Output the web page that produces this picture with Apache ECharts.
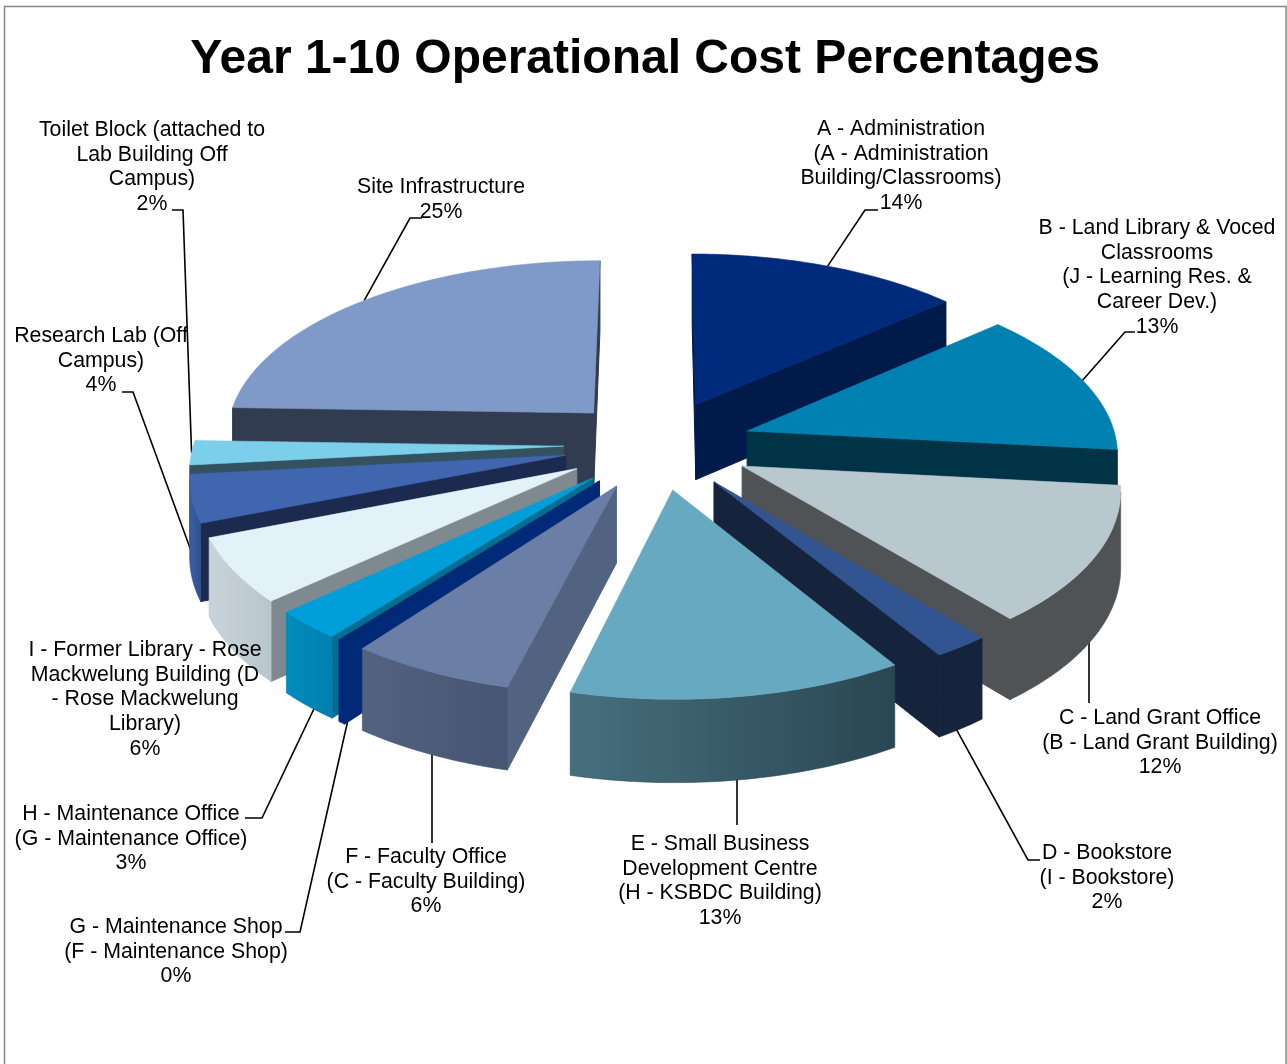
<!DOCTYPE html>
<html><head><meta charset="utf-8">
<style>html,body{margin:0;padding:0;background:#fff}#c{width:1287px;height:1064px}</style>
<script src="https://cdn.jsdelivr.net/npm/echarts@6/dist/echarts.min.js"></script>
</head><body><div id="c"></div>
<script>
const titleText = 'Year 1-10 Operational Cost Percentages';
const sliceNames = [
 'A - Administration\n(A - Administration\nBuilding/Classrooms)',
 'B - Land Library & Voced\nClassrooms\n(J - Learning Res. &\nCareer Dev.)',
 'C - Land Grant Office\n(B - Land Grant Building)',
 'D - Bookstore\n(I - Bookstore)',
 'E - Small Business\nDevelopment Centre\n(H - KSBDC Building)',
 'F - Faculty Office\n(C - Faculty Building)',
 'G - Maintenance Shop\n(F - Maintenance Shop)',
 'H - Maintenance Office\n(G - Maintenance Office)',
 'I - Former Library - Rose\nMackwelung Building (D\n- Rose Mackwelung\nLibrary)',
 'Research Lab (Off\nCampus)',
 'Toilet Block (attached to\nLab Building Off\nCampus)',
 'Site Infrastructure'
];
const sliceValues = [13.5, 13.2, 12.4, 2.15, 12.7, 6.3, 0.3, 2.65, 5.85, 4.3, 2.2, 24.5];

// --- styling and layout, separate from the data ---
const topColors = ['#002a7b','#0181b2','#b9c7ce','#325490','#68a9c2','#6a7ea6','#00286f','#009fd9','#e3f2f9','#3f66ae','#7bcfea','#7f99c9'];
const cutColors = ['#001b4a','#003345','#4f5355','#15233c','#2a4652','#526382','#002a78','#006d92','#7f8a90','#1b2a4e','#33515e','#323c50'];
const rimColors = [['#001b4a','#001b4a'],['#003345','#003345'],['#4f5355','#4f5355'],['#15233c','#15233c'],['#466f7e','#2a4652'],['#52627f','#465572'],['#002a78','#002a78'],['#008dbd','#007fae'],['#c8d4da','#b9c6cc'],['#3a5fa3','#2f5090'],['#33515e','#33515e'],['#323c50','#323c50']];
const explode = [0.255,0.255,0.255,0.255,0.255,0.255,0.255,0.255,0.255,0.255,0.255,0.255];
const labelCenterX = [901,1157,1160,1107,720,426,176,131,145,101,152,441];
const labelTopY = [117,216,706,841,832,845,915,802,638,324,118,175];
const leaderBends = [[[865,210],[878,210]],[[1125,332],[1135,332]],[[1089,703]],[[1028,860],[1040,860]],[[737,825]],[[432,843]],[[300,932],[285,932]],[[262,818],[245,818]],[],[[205,589],[133,392],[122,392]],[[183,210],[172,210]],[[410,218],[422,218]]];
const leaderRadius = [1,1,1,0.7,1,1,0.9,0.8,1,null,1,1];
const view = {cx:658, cy:444.5, R:370, Ry:175.5, persp:0.11, depth:76, depthPersp:0.6};

const total = sliceValues.reduce((a,b)=>a+b,0);
let acc = 0;
const slices = sliceValues.map((v,i)=>{
  const a = acc/total*2*Math.PI; acc += v;
  const b = acc/total*2*Math.PI;
  return {i, a, b, m:(a+b)/2};
});
function project(u,v,z){
  const s = 1/(1-view.persp*v);
  return [view.cx+view.R*u*s, view.cy+view.Ry*v*s+view.depth*(1+(s-1)*view.depthPersp)*(z||0)];
}
function ground(sl,th,r){
  const e = explode[sl.i];
  const k = th===null?0:(r===undefined?1:r);
  return [e*Math.sin(sl.m)+(th===null?0:k*Math.sin(th)), -e*Math.cos(sl.m)+(th===null?0:-k*Math.cos(th))];
}
function wall(a){ // a: ground point list along the top edge
  const top = a.map(g=>project(g[0],g[1],0));
  const bot = a.map(g=>project(g[0],g[1],1)).reverse();
  return top.concat(bot);
}
function poly(points,fill,stroke,lw){
  return {type:'polygon',silent:true,shape:{points},style:{fill,stroke:stroke||fill,lineWidth:lw||0.6}};
}
function grad(c){return {type:'linear',x:0,y:0,x2:1,y2:0,colorStops:[{offset:0,color:c[0]},{offset:1,color:c[1]}]};}
function sliceGroup(sl){
  const n = Math.max(2,Math.ceil((sl.b-sl.a)/(Math.PI/180)));
  const rim = [];
  for(let k=0;k<=n;k++) rim.push(ground(sl,sl.a+(sl.b-sl.a)*k/n));
  const apex = ground(sl,null);
  const kids = [];
  const px = g=>project(g[0],g[1],0)[0];
  if(px(rim[0])<px(apex)) kids.push(poly(wall([apex,rim[0]]),cutColors[sl.i],null,1));
  if(px(apex)<px(rim[n])) kids.push(poly(wall([rim[n],apex]),cutColors[sl.i],null,1));
  let run = [];
  const flush = ()=>{ if(run.length>1) kids.push(poly(wall(run),grad(rimColors[sl.i]),rimColors[sl.i][1],0.6)); run=[]; };
  for(let k=0;k<n;k++){
    if(px(rim[k+1])<px(rim[k])){ if(!run.length) run.push(rim[k]); run.push(rim[k+1]); }
    else flush();
  }
  flush();
  kids.push(poly([apex].concat(rim).map(g=>project(g[0],g[1],0)),topColors[sl.i]));
  return {type:'group',children:kids};
}
const order = slices.slice().sort((p,q)=>(-Math.cos(p.m))-(-Math.cos(q.m)));

const chart = echarts.init(document.getElementById('c'),null,{renderer:'canvas'});
chart.setOption({
  animation:false,
  backgroundColor:'#fff',
  title:{text:titleText,left:640,top:31,textAlign:'center',textStyle:{fontFamily:'Liberation Sans',fontSize:48,fontWeight:'bold',color:'#000'}},
  graphic:[{type:'polyline',silent:true,shape:{points:[[4.5,1064],[4.5,6.5],[1286,6.5],[1286,1064]]},style:{stroke:'#868686',lineWidth:1.5,fill:null}}],
  series:[
   {type:'custom',coordinateSystem:'none',z:1,data:slices.map(s=>s.i),renderItem:(p,api)=>{
     const sl = slices[api.value(0)];
     const bends = leaderBends[sl.i];
     if(!bends.length) return {type:'group',children:[]};
     const r = leaderRadius[sl.i];
     if(r===null) return {type:'polyline',silent:true,shape:{points:bends},style:{stroke:'#000',lineWidth:1.6,fill:null}};
     const g = ground(sl,sl.m,r);
     const start = project(g[0],g[1],0);
     if(bends.length===1) start[0] = bends[0][0];
     return {type:'polyline',silent:true,shape:{points:[start].concat(bends)},style:{stroke:'#000',lineWidth:1.6,fill:null}};
   }},
   {type:'custom',coordinateSystem:'none',z:2,data:order.map(s=>s.i),renderItem:(p,api)=>sliceGroup(slices[api.value(0)])},
   {type:'custom',coordinateSystem:'none',z:3,data:slices.map(s=>s.i),renderItem:(p,api)=>{
     const i = api.value(0);
     return {type:'text',silent:true,style:{text:sliceNames[i]+'\n'+Math.round(sliceValues[i])+'%',x:labelCenterX[i],y:labelTopY[i],align:'center',verticalAlign:'top',fontFamily:'Liberation Sans',fontSize:21.3,lineHeight:24.6,fill:'#000'}};
   }}
  ]
});
</script></body></html>
